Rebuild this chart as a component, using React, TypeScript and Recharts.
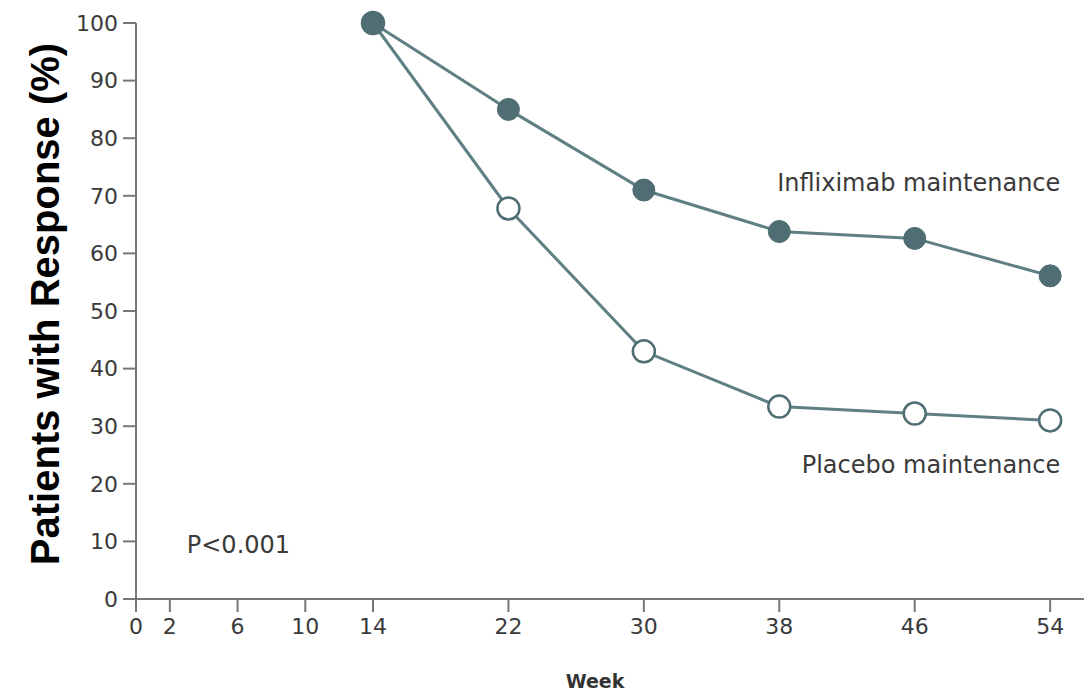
import React from "react";
import { LineChart, Line, XAxis, YAxis, ReferenceDot } from "recharts";

const weeks = [14, 22, 30, 38, 46, 54];
const infliximab = [100, 85, 71, 63.8, 62.6, 56.1];
const placebo = [100, 67.8, 43, 33.4, 32.2, 31];

const xTicks = [0, 2, 6, 10, 14, 22, 30, 38, 46, 54];
const yTicks = [0, 10, 20, 30, 40, 50, 60, 70, 80, 90, 100];

// text notes, placed in data space (week, %)
const notes = [
  { text: "Infliximab maintenance", week: 54.6, value: 72.3, anchor: "end" },
  { text: "Placebo maintenance", week: 54.6, value: 23.3, anchor: "end" },
  { text: "P<0.001", week: 3.0, value: 9.4, anchor: "start" },
];

const data = weeks.map((w, i) => ({ week: w, infliximab: infliximab[i], placebo: placebo[i] }));

const LINE = "#5f7f84";
const DOT = "#4f6e73";
const TEXT = "#3a3a3a";
const FONT = "'DejaVu Sans', sans-serif";

function YLabel(props: any) {
  const { viewBox } = props;
  const cx = viewBox.x + 45;
  const cy = 304;
  return (
    <text
      x={cx}
      y={cy}
      transform={`rotate(-90, ${cx}, ${cy})`}
      textAnchor="middle"
      dominantBaseline="central"
      fontFamily="'Liberation Sans', Arial, sans-serif"
      fontWeight="bold"
      fontSize={40}
      fill="#000"
    >
      Patients with Response (%)
    </text>
  );
}

function XLabel(props: any) {
  const { viewBox } = props;
  return (
    <text
      x={viewBox.x + viewBox.width / 2 - 15}
      y={viewBox.y + 82}
      textAnchor="middle"
      dominantBaseline="central"
      fontFamily={FONT}
      fontWeight="bold"
      fontSize={19}
      fill="#333"
    >
      Week
    </text>
  );
}

export default function App() {
  return (
    <div style={{ position: "absolute", left: 0, top: 0, background: "#fff" }}>
      <LineChart width={1084} height={696} data={data} margin={{ top: 23, right: 0, bottom: 0, left: 0 }}>
        <XAxis
          dataKey="week"
          type="number"
          domain={[0, 56]}
          ticks={xTicks}
          interval={0}
          height={97}
          tickSize={13}
          tickMargin={6}
          stroke="#777"
          strokeWidth={2}
          tick={{ fill: TEXT, fontSize: 22, fontFamily: FONT }}
          label={<XLabel />}
        />
        <YAxis
          type="number"
          domain={[0, 100]}
          ticks={yTicks}
          interval={0}
          width={136}
          tickSize={13}
          tickMargin={5}
          stroke="#777"
          strokeWidth={2}
          tick={{ fill: TEXT, fontSize: 22, fontFamily: FONT }}
          label={<YLabel />}
        />
        <Line
          dataKey="placebo"
          stroke={LINE}
          strokeWidth={3}
          isAnimationActive={false}
          dot={{ r: 11, fill: "#fff", stroke: DOT, strokeWidth: 2.5 }}
        />
        <Line
          dataKey="infliximab"
          stroke={LINE}
          strokeWidth={3}
          isAnimationActive={false}
          dot={{ r: 11, fill: DOT, stroke: DOT, strokeWidth: 1 }}
        />
        {notes.map((n) => (
          <ReferenceDot
            key={n.text}
            x={n.week}
            y={n.value}
            r={0}
            ifOverflow="visible"
            shape={(p: any) => (
              <text
                x={p.cx}
                y={p.cy}
                textAnchor={n.anchor}
                dominantBaseline="central"
                fontFamily={FONT}
                fontSize={24}
                fill={TEXT}
              >
                {n.text}
              </text>
            )}
          />
        ))}
      </LineChart>
    </div>
  );
}
